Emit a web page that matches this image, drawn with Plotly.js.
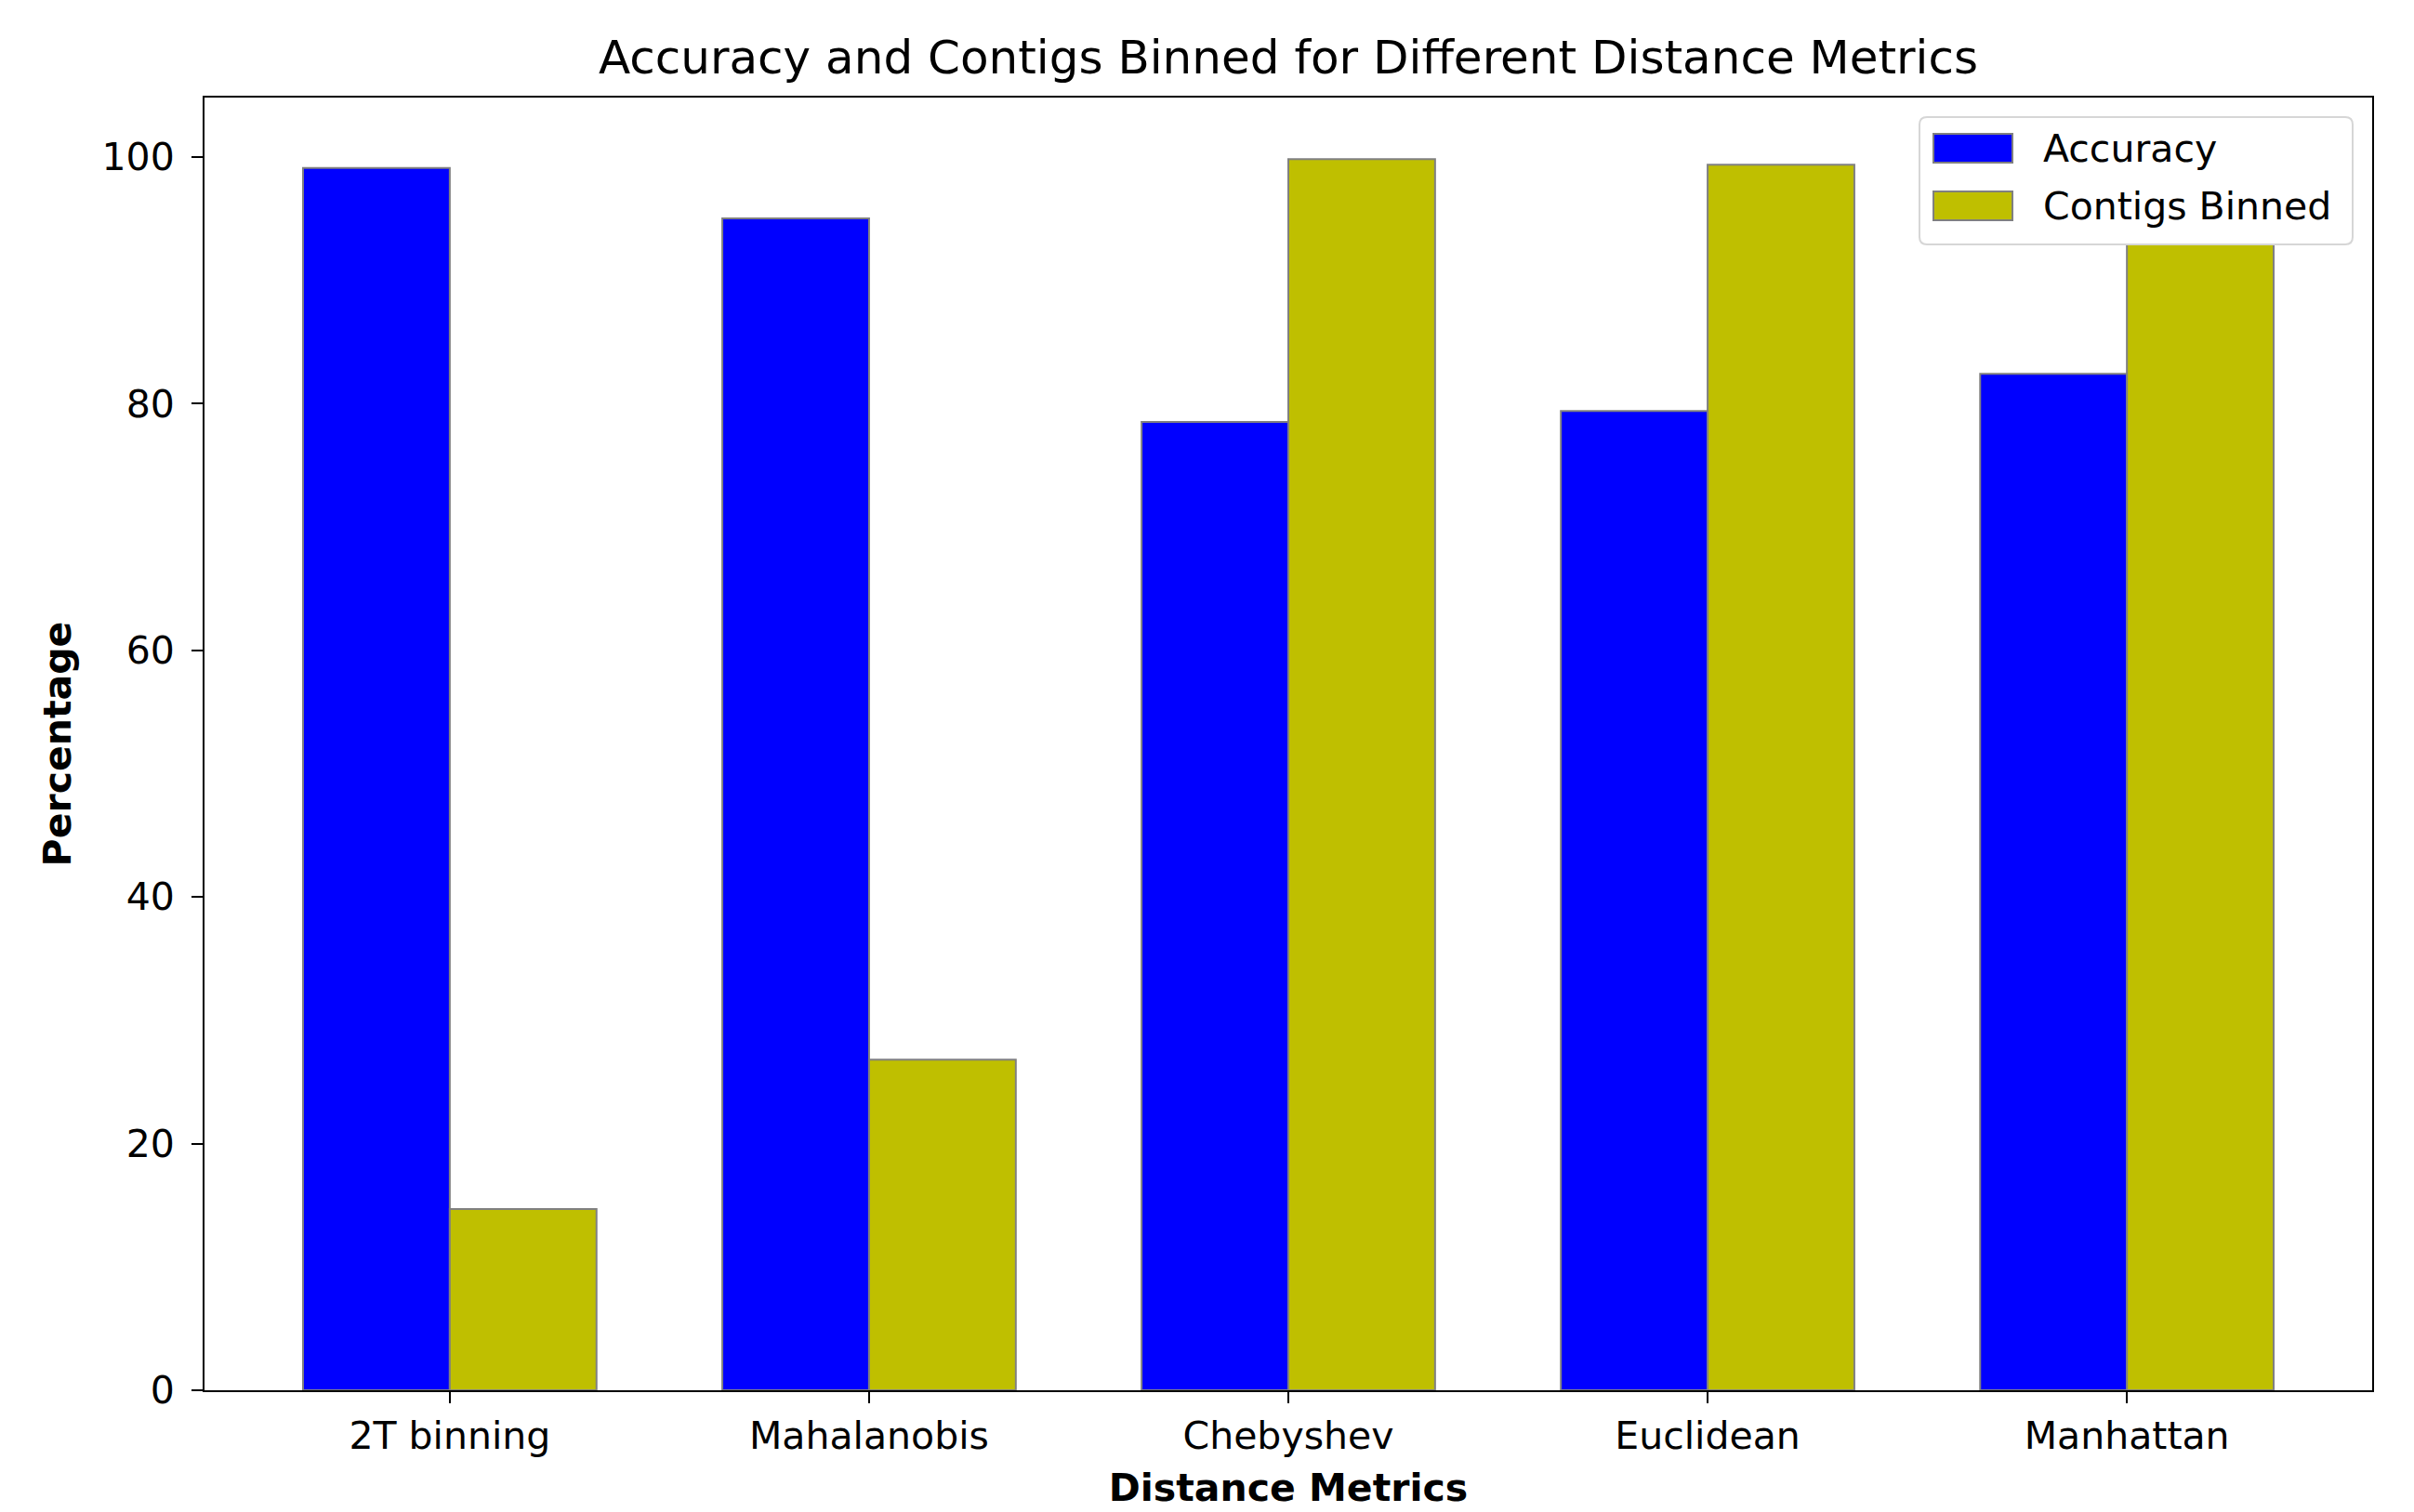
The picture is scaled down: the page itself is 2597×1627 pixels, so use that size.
<!DOCTYPE html>
<html>
<head>
<meta charset="utf-8">
<script src="https://cdn.plot.ly/plotly-3.0.1.min.js"></script>
<style>html,body{margin:0;padding:0;background:#fff;}#chart{width:2597px;height:1627px;}</style>
</head>
<body>
<div id="chart"></div>
<script>
const categories = ["2T binning", "Mahalanobis", "Chebyshev", "Euclidean", "Manhattan"];
const accuracy = [99.1, 95.0, 78.5, 79.4, 82.4];
const contigsBinned = [14.7, 26.8, 99.8, 99.35, 97.0];
const yTicks = [0, 20, 40, 60, 80, 100];
const seriesNames = ["Accuracy", "Contigs Binned"];
const seriesColors = ["#0000ff", "#bfbf00"];

const FONT = "DejaVu Sans, sans-serif";
const edge = {color: "#808080", width: 2};

const traces = [
  {type: "bar", name: seriesNames[0], x: categories, y: accuracy,
   marker: {color: seriesColors[0], line: edge}, hoverinfo: "skip"},
  {type: "bar", name: seriesNames[1], x: categories, y: contigsBinned,
   marker: {color: seriesColors[1], line: edge}, hoverinfo: "skip"}
];

// plot area in pixels (for legend placement in paper coordinates)
const W = 2597, H = 1627;
const M = {l: 220, r: 45, t: 105, b: 131};
const PW = W - M.l - M.r, PH = H - M.t - M.b;
const px = v => (v - M.l) / PW;
const py = v => (H - M.b - v) / PH;

// matplotlib-like legend box
const bx0 = 2065, bx1 = 2531, by0 = 126, by1 = 263, rr = 8;
const boxPath = [
  `M${px(bx0 + rr)},${py(by0)}`,
  `L${px(bx1 - rr)},${py(by0)}`,
  `Q${px(bx1)},${py(by0)} ${px(bx1)},${py(by0 + rr)}`,
  `L${px(bx1)},${py(by1 - rr)}`,
  `Q${px(bx1)},${py(by1)} ${px(bx1 - rr)},${py(by1)}`,
  `L${px(bx0 + rr)},${py(by1)}`,
  `Q${px(bx0)},${py(by1)} ${px(bx0)},${py(by1 - rr)}`,
  `L${px(bx0)},${py(by0 + rr)}`,
  `Q${px(bx0)},${py(by0)} ${px(bx0 + rr)},${py(by0)}`,
  "Z"
].join(" ");

const shapes = [
  {type: "path", xref: "paper", yref: "paper", path: boxPath,
   fillcolor: "#ffffff", line: {color: "#d6d6d6", width: 2}, layer: "above"}
];
const annotations = [];
const rowCenters = [160, 222];
seriesNames.forEach((nm, i) => {
  const cy = rowCenters[i];
  shapes.push({type: "rect", xref: "paper", yref: "paper",
    x0: px(2080), x1: px(2165), y0: py(cy - 16), y1: py(cy + 15),
    fillcolor: seriesColors[i], line: {color: "#808080", width: 2}, layer: "above"});
  annotations.push({xref: "paper", yref: "paper", x: px(2196), y: py(cy),
    xanchor: "left", yanchor: "middle", showarrow: false, text: nm,
    font: {family: FONT, size: 41, color: "#000"}});
});

const layout = {
  width: W, height: H,
  paper_bgcolor: "#ffffff", plot_bgcolor: "#ffffff",
  font: {family: FONT, size: 41, color: "#000"},
  margin: {l: M.l, r: M.r, t: M.t, b: M.b, pad: 0},
  barmode: "group", bargap: 0.3, bargroupgap: 0,
  showlegend: false,
  title: {text: "Accuracy and Contigs Binned for Different Distance Metrics",
          font: {family: FONT, size: 50, color: "#000"},
          x: 0.5, xanchor: "center", xref: "paper", y: 0.962, yanchor: "middle"},
  xaxis: {
    type: "category", range: [-0.585, 4.585],
    showline: true, linecolor: "#000", linewidth: 2, mirror: true,
    ticks: "outside", ticklen: 12, tickwidth: 2, tickcolor: "#000",
    ticklabelstandoff: 0,
    showgrid: false, zeroline: false,
    tickfont: {family: FONT, size: 41, color: "#000"},
    title: {text: "<b>Distance Metrics</b>", font: {family: FONT, size: 41, color: "#000"}, standoff: 18}
  },
  yaxis: {
    range: [0, 104.8], tickvals: yTicks, ticktext: yTicks.map(String),
    showline: true, linecolor: "#000", linewidth: 2, mirror: true,
    ticks: "outside", ticklen: 12, tickwidth: 2, tickcolor: "#000",
    ticklabelstandoff: 10,
    showgrid: false, zeroline: false,
    tickfont: {family: FONT, size: 41, color: "#000"},
    title: {text: "<b>Percentage</b>", font: {family: FONT, size: 41, color: "#000"}, standoff: 20}
  },
  shapes: shapes,
  annotations: annotations
};

Plotly.newPlot("chart", traces, layout, {displayModeBar: false, staticPlot: true});
</script>
</body>
</html>
